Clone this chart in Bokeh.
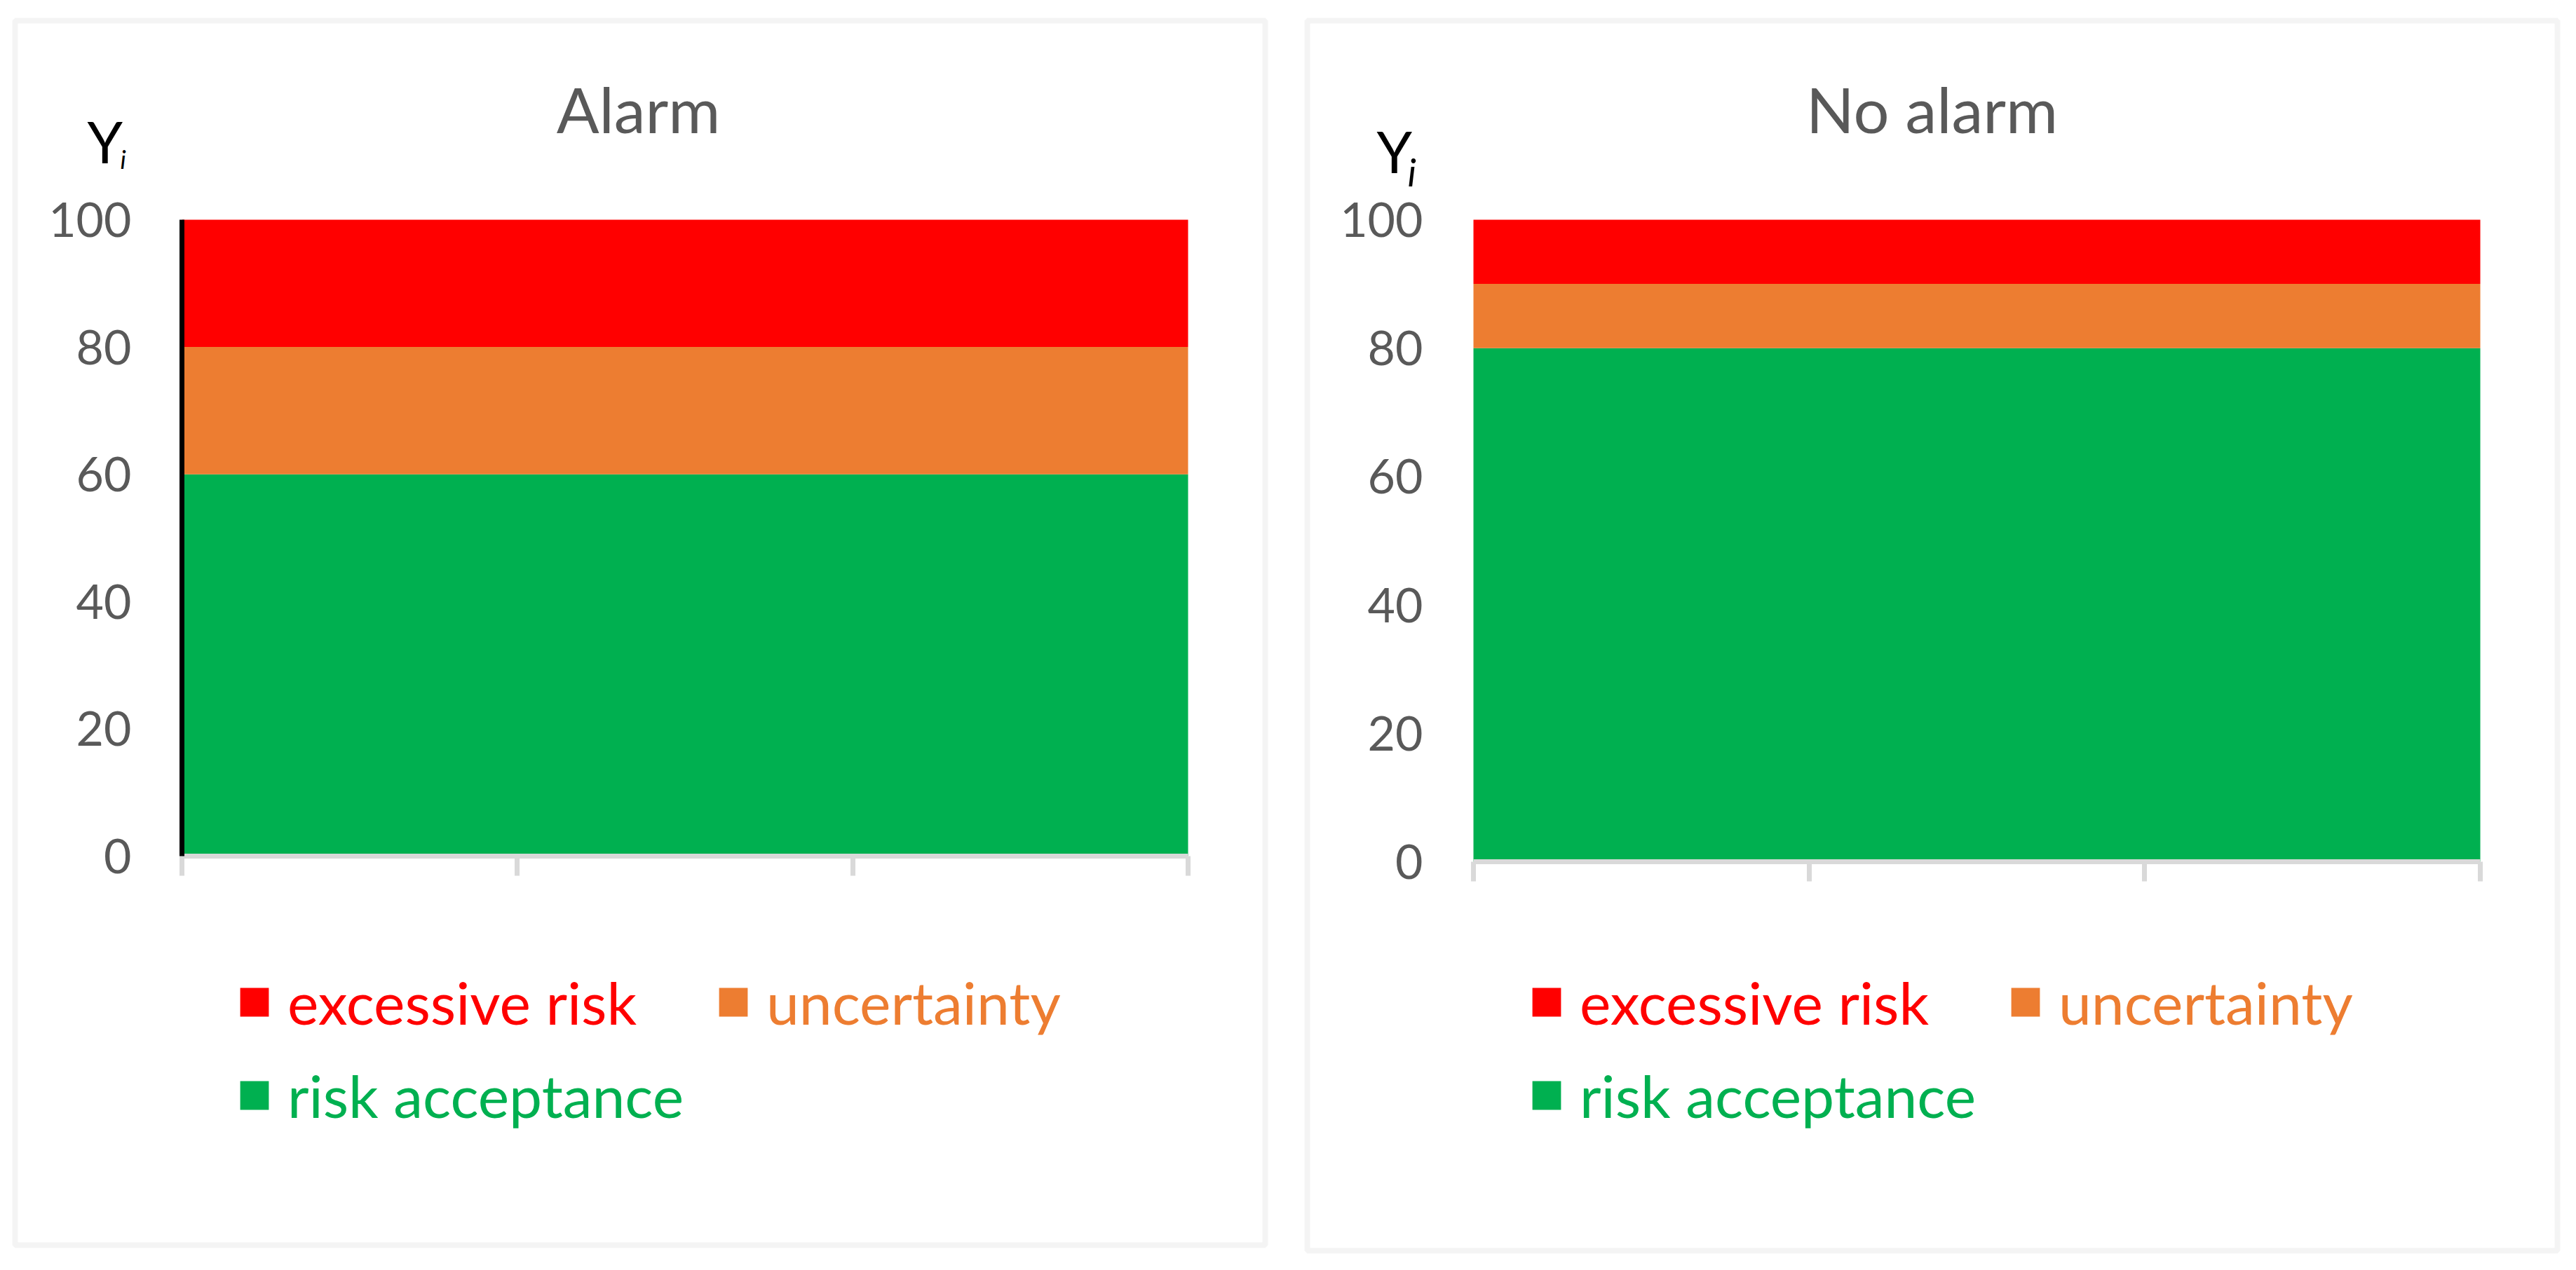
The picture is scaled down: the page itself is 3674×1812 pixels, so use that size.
from bokeh.plotting import figure
from bokeh.models import (Range1d, FixedTicker, Legend, LegendItem, Label,
                          BoxAnnotation, ColumnDataSource)
from bokeh.layouts import row
from bokeh.embed import file_html
from bokeh.resources import INLINE

# ---------------- data ----------------
x_points = [0, 1, 2, 3]
y_ticks = [0, 20, 40, 60, 80, 100]
series_names = ["risk acceptance", "uncertainty", "excessive risk"]
series_colors = ["#00b050", "#ed7d31", "#ff0000"]

panel_titles = ["Alarm", "No alarm"]

alarm_acceptance = [60, 60, 60, 60]
alarm_uncertainty = [20, 20, 20, 20]
alarm_excessive = [20, 20, 20, 20]

noalarm_acceptance = [80, 80, 80, 80]
noalarm_uncertainty = [10, 10, 10, 10]
noalarm_excessive = [10, 10, 10, 10]

FONT = "Lato"
GRAY_TXT = "#595959"
BORDER = "#d9d9d9"
BASE_SHIFT = 0.33  # label baseline correction (fraction of font size)


def make_panel(title, acc, unc, exc, W, H, px0, px3, py0, py100, border,
               y_axis_color, title_cx, title_base, yl, il, il_size, leg_x):
    # the frame fills the whole canvas; the data block sits at the given pixels
    kx = (px3 - px0) / 3.0
    ky = (py0 - py100) / 100.0
    xr = Range1d(-px0 / kx, 3 + (W - px3) / kx)
    yr = Range1d(-(H - py0) / ky, 100 + py100 / ky)
    p = figure(width=W, height=H, output_backend="svg", toolbar_location=None,
               x_range=xr, y_range=yr, min_border=0,
               min_border_left=0, min_border_right=0,
               min_border_top=0, min_border_bottom=0)
    p.outline_line_color = None
    p.background_fill_color = "white"
    p.border_fill_color = "white"
    p.xgrid.visible = False
    p.ygrid.visible = False

    def sy(cy):
        return H - cy

    src = ColumnDataSource(dict(x=x_points, acc=acc, unc=unc, exc=exc))
    rs = p.varea_stack(stackers=["acc", "unc", "exc"], x="x", source=src,
                       color=series_colors)

    ya = p.yaxis[0]
    ya.fixed_location = 0
    ya.bounds = (0, 100)
    ya.ticker = FixedTicker(ticks=y_ticks)
    ya.major_tick_line_color = None
    ya.minor_tick_line_color = None
    ya.major_tick_out = 0
    ya.major_tick_in = 0
    ya.axis_line_color = y_axis_color
    ya.axis_line_width = 7
    ya.major_label_standoff = 72
    ya.major_label_text_font = FONT
    ya.major_label_text_font_size = "68px"
    ya.major_label_text_color = GRAY_TXT

    xa = p.xaxis[0]
    xa.fixed_location = 0
    xa.bounds = (0, 3)
    xa.ticker = FixedTicker(ticks=x_points)
    xa.minor_tick_line_color = None
    xa.axis_line_color = BORDER
    xa.axis_line_width = 7
    xa.major_tick_line_color = BORDER
    xa.major_tick_line_width = 7
    xa.major_tick_out = 28
    xa.major_tick_in = 0
    xa.major_label_overrides = {t: "" for t in x_points}
    xa.major_label_text_font_size = "10px"

    # panel border
    left, right, top, bottom = border
    p.add_layout(BoxAnnotation(left=left, right=right, top=sy(top), bottom=sy(bottom),
                               left_units="screen", right_units="screen",
                               top_units="screen", bottom_units="screen",
                               fill_alpha=0, line_color=BORDER, line_width=8, level="overlay"))

    def label(text, x, base, size, color, align="left", style="normal"):
        p.add_layout(Label(x=x, y=sy(base - BASE_SHIFT * size),
                           x_units="screen", y_units="screen",
                           text=text, text_font=FONT, text_font_size=f"{size}px",
                           text_font_style=style, text_color=color,
                           text_align=align, text_baseline="alphabetic"))

    label(title, title_cx, title_base, 90, GRAY_TXT, align="center")
    label("Y", yl[0], yl[1], 81, "black")
    label("i", il[0], il[1], il_size, "black", style="italic")

    # legends (one per series so that each label has its own colour)
    leg_specs = [
        (rs[2], series_names[2], series_colors[2], leg_x[0], 1428.5),
        (rs[1], series_names[1], series_colors[1], leg_x[1], 1428.5),
        (rs[0], series_names[0], series_colors[0], leg_x[0], 1561.5),
    ]
    for r, name, col, gx, gc in leg_specs:
        leg = Legend(items=[LegendItem(label=name, renderers=[r])],
                     location=(gx, sy(gc + 51)),
                     glyph_width=51, glyph_height=51, label_height=51,
                     label_standoff=22, padding=0, margin=0, spacing=0,
                     border_line_color=None, background_fill_alpha=0,
                     label_text_font=FONT, label_text_font_size="84px",
                     label_text_color=col)
        p.add_layout(leg)
    return p


p1 = make_panel(panel_titles[0], alarm_acceptance, alarm_uncertainty, alarm_excessive,
                W=1834, H=1812, px0=259, px3=1694, py0=1221, py100=313,
                border=(21, 1804, 29, 1776), y_axis_color="black",
                title_cx=910, title_base=184, yl=(124, 228), il=(171, 238), il_size=36,
                leg_x=(337, 1020))
p2 = make_panel(panel_titles[1], noalarm_acceptance, noalarm_uncertainty, noalarm_excessive,
                W=1840, H=1812, px0=267, px3=1703, py0=1229, py100=313,
                border=(30, 1813, 29, 1784), y_axis_color=None,
                title_cx=921, title_base=184, yl=(129, 242), il=(173, 263), il_size=54,
                leg_x=(346, 1029))

layout = row(p1, p2, spacing=0)
open("out.html", "w").write(file_html(layout, INLINE))
